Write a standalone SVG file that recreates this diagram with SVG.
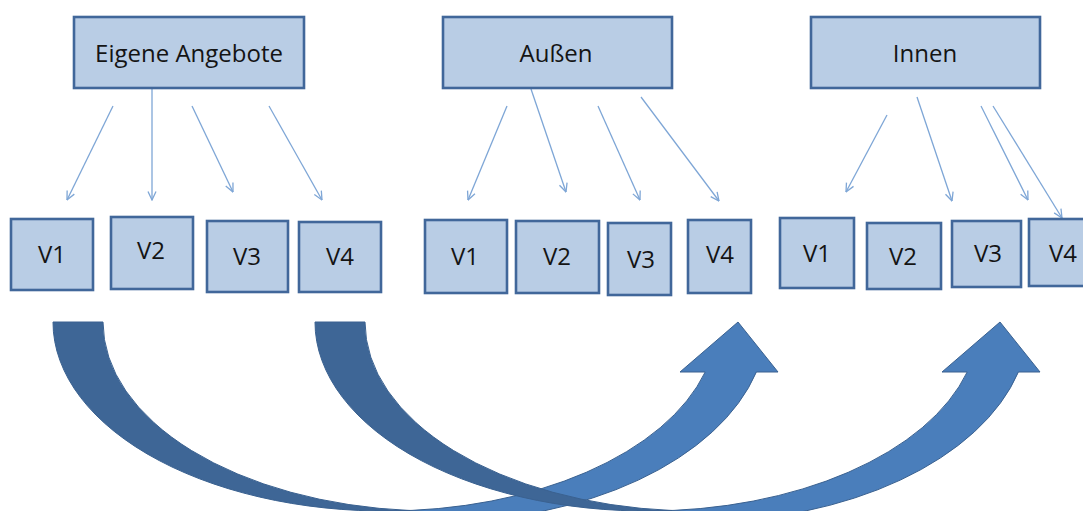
<svg xmlns="http://www.w3.org/2000/svg" width="1083" height="511" viewBox="0 0 1083 511">
<style>
.box{fill:#b9cde5;stroke:#41679a;stroke-width:2.6}
.lbl{font-family:"Open Sans","Liberation Sans",sans-serif;fill:#141414;text-anchor:middle}
.top{font-size:24px}
.v{font-size:24px}
.con{stroke:#7ea6d6;stroke-width:1.3;fill:none;marker-end:url(#ah)}
.tail{fill:#3e6696;stroke:#3a6190;stroke-width:1}
.rise{fill:#4a7ebb;stroke:#3a6190;stroke-width:1}
</style>
<defs>
<marker id="ah" viewBox="0 0 10 10" refX="9.5" refY="5" markerWidth="10" markerHeight="10" markerUnits="userSpaceOnUse" orient="auto">
<path d="M1,1 L9.5,5 L1,9" fill="none" stroke="#7ea6d6" stroke-width="1.3"/>
</marker>
<g id="curved">
<path class="rise" d="M385,511 L385,530 L435,530 L435,522 A332 200 0 0 0 756.4,372 L778,372 L738,322 L680,372 L705.2,372 A332 189 0 0 1 385,511 Z"/>
<path class="tail" d="M53,322 A332 189 0 0 0 410,510.5 A332 189 0 0 1 103,322 Z"/>
</g>
</defs>
<rect width="1083" height="511" fill="#ffffff"/>

<g id="flow-arrows">
<use href="#curved"/>
<use href="#curved" transform="translate(262,0)"/>
</g>

<g id="connectors">
<line class="con" x1="113" y1="106" x2="67" y2="200"/>
<line class="con" x1="152" y1="89" x2="152" y2="200"/>
<line class="con" x1="192" y1="106" x2="233" y2="192"/>
<line class="con" x1="269" y1="106" x2="322" y2="200"/>
<line class="con" x1="507" y1="106" x2="468" y2="200"/>
<line class="con" x1="531" y1="89" x2="566" y2="192"/>
<line class="con" x1="598" y1="106" x2="640" y2="200"/>
<line class="con" x1="641" y1="97" x2="719" y2="201"/>
<line class="con" x1="887" y1="115" x2="846" y2="192"/>
<line class="con" x1="917" y1="97" x2="952" y2="201"/>
<line class="con" x1="981" y1="106" x2="1028" y2="200"/>
<line class="con" x1="993" y1="106" x2="1062" y2="218"/>
</g>

<g id="eigene-angebote">
<rect class="box" x="74" y="17" width="230" height="71"/>
<text class="lbl top" x="189" y="62">Eigene Angebote</text>
</g>
<g id="aussen">
<rect class="box" x="443" y="17" width="229" height="71"/>
<text class="lbl top" x="556" y="62">Außen</text>
</g>
<g id="innen">
<rect class="box" x="811" y="17" width="229" height="71"/>
<text class="lbl top" x="925" y="62">Innen</text>
</g>

<g id="ea-v1"><rect class="box" x="11" y="219" width="82" height="71"/><text class="lbl v" x="52" y="263">V1</text></g>
<g id="ea-v2"><rect class="box" x="111" y="217" width="82" height="72"/><text class="lbl v" x="151" y="259">V2</text></g>
<g id="ea-v3"><rect class="box" x="207" y="221" width="81" height="71"/><text class="lbl v" x="247" y="265">V3</text></g>
<g id="ea-v4"><rect class="box" x="299" y="222" width="82" height="70"/><text class="lbl v" x="340" y="265">V4</text></g>

<g id="au-v1"><rect class="box" x="425" y="220" width="82" height="73"/><text class="lbl v" x="465" y="265">V1</text></g>
<g id="au-v2"><rect class="box" x="516" y="221" width="83" height="72"/><text class="lbl v" x="557" y="265">V2</text></g>
<g id="au-v3"><rect class="box" x="608" y="223" width="63" height="72"/><text class="lbl v" x="641" y="268">V3</text></g>
<g id="au-v4"><rect class="box" x="688" y="220" width="63" height="73"/><text class="lbl v" x="720" y="263">V4</text></g>

<g id="in-v1"><rect class="box" x="780" y="218" width="74" height="70"/><text class="lbl v" x="817" y="262">V1</text></g>
<g id="in-v2"><rect class="box" x="867" y="223" width="74" height="66"/><text class="lbl v" x="903" y="265">V2</text></g>
<g id="in-v3"><rect class="box" x="952" y="221" width="69" height="66"/><text class="lbl v" x="988" y="262">V3</text></g>
<g id="in-v4"><rect class="box" x="1029" y="219" width="60" height="67"/><text class="lbl v" x="1063" y="262">V4</text></g>
</svg>
